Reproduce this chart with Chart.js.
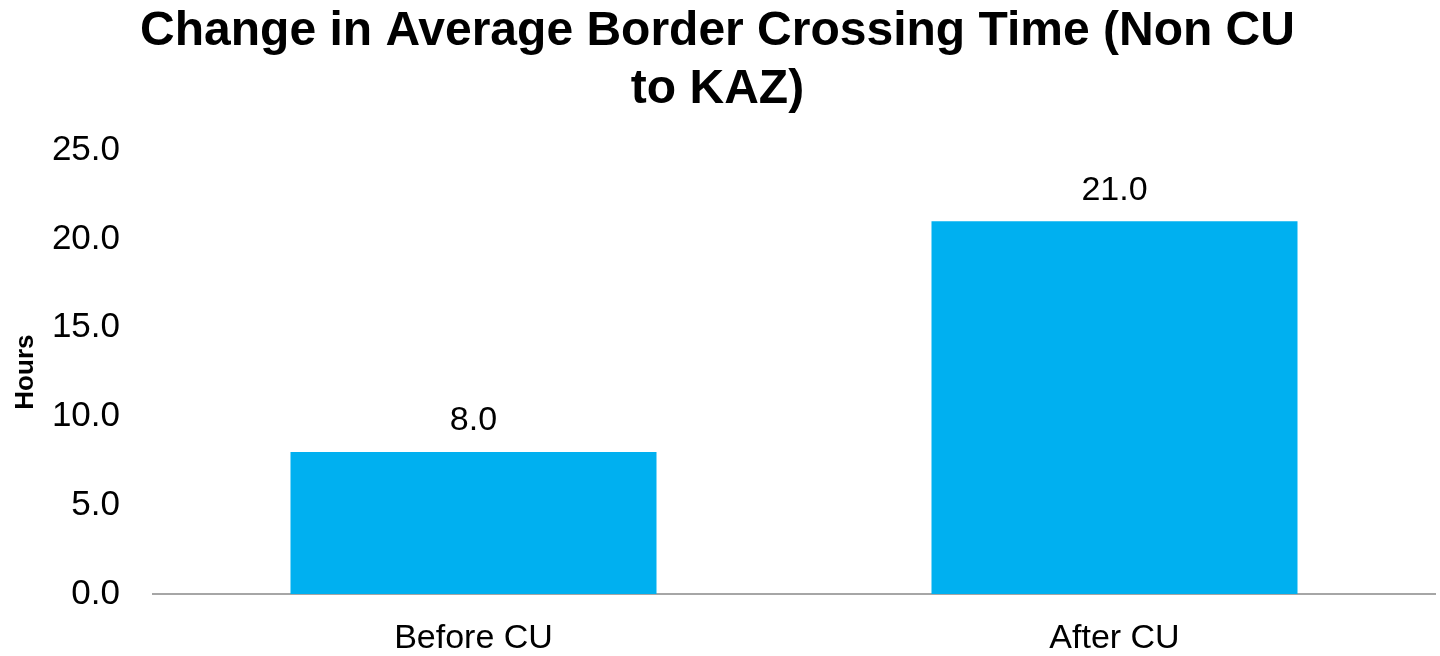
<!DOCTYPE html>
<html>
<head>
<meta charset="utf-8">
<script src="https://cdn.jsdelivr.net/npm/chart.js@4.4.0/dist/chart.umd.min.js"></script>
<style>
  html, body { margin: 0; padding: 0; background: #fff; }
  #wrap { width: 1440px; height: 656px; }
</style>
</head>
<body>
<div id="wrap"><canvas id="crossChart"></canvas></div>
<script>
const categories = ["Before CU", "After CU"];
const hours = [8.0, 21.0];
const yTicks = [0, 5, 10, 15, 20, 25];

// value labels above each bar
const valueLabels = {
    id: "valueLabels",
    afterDatasetsDraw(chart) {
        const ctx = chart.ctx;
        const meta = chart.getDatasetMeta(0);
        ctx.save();
        ctx.font = "34px 'Liberation Sans', Arial, sans-serif";
        ctx.fillStyle = "#000";
        ctx.textAlign = "center";
        ctx.textBaseline = "bottom";
        meta.data.forEach((bar, i) => {
            ctx.fillText(hours[i].toFixed(1), bar.x, bar.y - 14);
        });
        ctx.restore();
    }
};

const ctx = document.getElementById("crossChart");

new Chart(ctx, {
    type: "bar",
    data: {
        labels: categories,
        datasets: [
            {
                label: "Hours",
                data: hours,
                backgroundColor: "#00B0F0",
                categoryPercentage: 1,
                barPercentage: 0.571
            }
        ]
    },
    options: {
        responsive: true,
        maintainAspectRatio: false,
        animation: false,
        layout: { padding: { left: 0, right: 5, top: 3, bottom: 0 } },
        plugins: {
            legend: { display: false },
            tooltip: { enabled: false },
            title: {
                display: true,
                text: ["Change in Average Border Crossing Time (Non CU", "to KAZ)"],
                color: "#000",
                font: { family: "'Liberation Sans', Arial, sans-serif", size: 48, weight: "bold", lineHeight: 1.2 },
                padding: { top: 0, bottom: 32 }
            }
        },
        scales: {
            x: {
                afterFit(scale) {
                    scale.height = 62;
                },
                grid: { display: false, drawTicks: false },
                border: { display: true, color: "#A6A6A6", width: 2 },
                ticks: {
                    color: "#000",
                    padding: 28,
                    font: { family: "'Liberation Sans', Arial, sans-serif", size: 34, lineHeight: 1 }
                }
            },
            y: {
                min: 0,
                max: 25,
                afterBuildTicks(scale) {
                    scale.ticks = yTicks.map(v => ({ value: v }));
                },
                afterFit(scale) {
                    scale.width = 153;
                },
                grid: { display: false, drawTicks: false },
                border: { display: false },
                ticks: {
                    color: "#000",
                    padding: 33,
                    font: { family: "'Liberation Sans', Arial, sans-serif", size: 35 },
                    callback: v => Number(v).toFixed(1)
                },
                title: {
                    display: true,
                    text: "Hours",
                    color: "#000",
                    padding: { top: 10, bottom: 0 },
                    font: { family: "'Liberation Sans', Arial, sans-serif", size: 26, weight: "bold" }
                }
            }
        }
    },
    plugins: [valueLabels]
});
</script>
</body>
</html>
